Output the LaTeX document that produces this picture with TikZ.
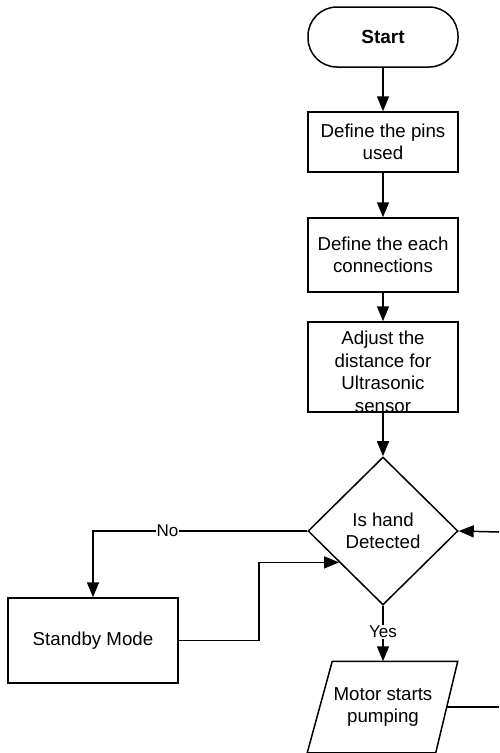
\documentclass[tikz,border=0pt]{standalone}
\usepackage{fontspec}
\setmainfont{Liberation Sans}
\usetikzlibrary{shapes.geometric,arrows.meta,calc}
\begin{document}
\begin{tikzpicture}[x=1pt,y=-1pt,
  font=\fontsize{18.7}{21.5}\selectfont,
  line width=1.5pt,
  box/.style={draw, rectangle, minimum width=150, minimum height=#1, inner sep=0, align=center},
  arr/.style={-{Triangle[length=15pt,width=12pt]}},
  lbl/.style={fill=white, inner sep=1pt, font=\fontsize{17}{19}\selectfont}]
\fill[white] (0,0) rectangle (499,753);
\useasboundingbox (0,0) rectangle (499,753);

\node[draw, rectangle, rounded corners=29, minimum width=150, minimum height=60, inner sep=0, font=\fontsize{19}{21.5}\selectfont\bfseries] (start) at (383,37) {Start};
\node[box=60] (b1) at (383,142) {Define the pins\\used};
\node[box=74] (b2) at (383,255) {Define the each\\connections};
\node[box=90] (b3) at (383,367) {};
\node[align=center, inner sep=0, font=\fontsize{18.7}{22.5}\selectfont] (b3text) at (383,372) {Adjust the\\distance for\\Ultrasonic\\sensor};
\node[draw, diamond, minimum width=150, minimum height=148, inner sep=0, align=center] (dec) at (383,531) {Is hand\\Detected};
\node[box=85, minimum width=170] (standby) at (93,640.5) {Standby Mode};
\node[rectangle, minimum width=124, minimum height=90, inner sep=0, align=center] (motor) at (383,707) {Motor starts\\pumping};
\draw ($(motor.north west)+(12,0)$) -- ($(motor.north east)+(12,0)$)
  -- ($(motor.south east)+(-10,0)$) -- ($(motor.south west)+(-13,0)$) -- cycle;

\coordinate (redge1) at (499,532);
\coordinate (redge2) at (499,707);
\coordinate (inlet) at ($(dec.west)!0.42!(dec.south)$);

\draw[arr] (start) -- (b1);
\draw[arr] (b1) -- (b2);
\draw[arr] (b2) -- (b3);
\draw[arr] (b3) -- (dec);
\draw[arr] (dec.west) -| node[lbl, pos=0.326] {No} (standby.north);
\draw[arr] (standby.east) -- ++(80,0) |- (inlet);
\draw[arr] (dec.south) -- node[lbl, pos=0.47] {Yes} (dec.south |- motor.north);
\draw (motor.east) -- (redge2);
\draw[arr] (redge1) -- (dec.east);
\end{tikzpicture}
\end{document}
